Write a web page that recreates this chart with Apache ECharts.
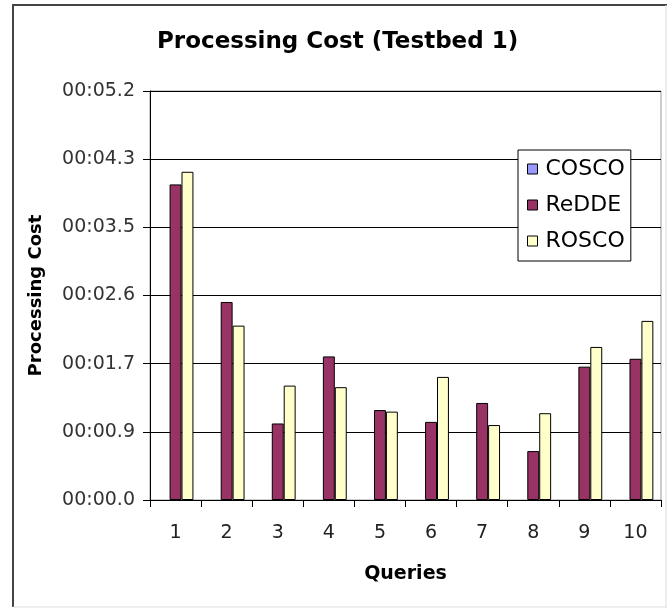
<!DOCTYPE html>
<html>
<head>
<meta charset="utf-8">
<title>Processing Cost (Testbed 1)</title>
<script src="https://cdn.jsdelivr.net/npm/echarts@6/dist/echarts.min.js"></script>
<style>
  html, body { margin: 0; padding: 0; background: #fff; }
  #chart { width: 668px; height: 609px; }
</style>
</head>
<body>
<div id="chart"></div>
<script>
// queries on the x axis
const queries = ["1", "2", "3", "4", "5", "6", "7", "8", "9", "10"];

// processing cost in seconds
const cosco = [0, 0, 0, 0, 0, 0, 0, 0, 0, 0];
const redde = [4.00, 2.51, 0.97, 1.82, 1.14, 0.99, 1.23, 0.62, 1.69, 1.79];
const rosco = [4.16, 2.21, 1.45, 1.43, 1.12, 1.56, 0.95, 1.10, 1.94, 2.27];

// excel major unit was 0.00001 day = 0.864 s
const yStep = 0.864;
const yTickLabels = ["00:00.0", "00:00.9", "00:01.7", "00:02.6", "00:03.5", "00:04.3", "00:05.2"];

const chart = echarts.init(document.getElementById("chart"), null, { renderer: "canvas" });

const font = "DejaVu Sans";

function barSeries(name, data, color, border) {
    return {
        name: name,
        type: "bar",
        data: data,
        barGap: "0%",
        barCategoryGap: "30%",
        itemStyle: { color: color, borderColor: "#000", borderWidth: border },
        emphasis: { disabled: true },
    };
}

chart.setOption({
    backgroundColor: "#fff",
    animation: false,
    title: {
        text: "Processing Cost (Testbed 1)",
        left: 157,
        top: 31,
        padding: 0,
        textStyle: { fontFamily: font, fontSize: 23, fontWeight: "bold", color: "#000" },
    },
    legend: {
        orient: "vertical",
        left: 518,
        top: 150,
        padding: [8, 6, 9, 9],
        itemGap: 14,
        itemWidth: 10,
        itemHeight: 10,
        icon: "rect",
        backgroundColor: "#fff",
        borderColor: "#000",
        borderWidth: 1,
        borderRadius: 0,
        itemStyle: { borderColor: "#000", borderWidth: 1 },
        textStyle: { fontFamily: font, fontSize: 22, color: "#000", padding: [0, 0, 0, 3] },
        data: ["COSCO", "ReDDE", "ROSCO"],
    },
    grid: {
        left: 150,
        right: 7,
        top: 91,
        bottom: 109,
        show: true,
        borderColor: "#999",
        borderWidth: 1,
    },
    xAxis: {
        type: "category",
        data: queries,
        name: "Queries",
        nameLocation: "middle",
        nameGap: 65,
        nameTextStyle: { fontFamily: font, fontSize: 19, fontWeight: "bold", color: "#000" },
        axisLine: { lineStyle: { color: "#000", width: 1 } },
        axisTick: { show: true, length: 7, lineStyle: { color: "#000" } },
        axisLabel: { fontFamily: font, fontSize: 19, color: "#222", margin: 24 },
    },
    yAxis: {
        type: "value",
        min: 0,
        max: yStep * 6,
        interval: yStep,
        name: "Processing Cost",
        nameLocation: "middle",
        nameGap: 105,
        nameTextStyle: { fontFamily: font, fontSize: 18, fontWeight: "bold", color: "#000" },
        axisLine: { show: true, lineStyle: { color: "#000", width: 1 } },
        axisTick: { show: true, length: 7, lineStyle: { color: "#000" } },
        axisLabel: {
            fontFamily: font,
            fontSize: 19,
            color: "#333",
            margin: 15,
            formatter: (v) => yTickLabels[Math.round(v / yStep)],
        },
        splitLine: { show: true, lineStyle: { color: "#000", width: 1 } },
    },
    series: [
        barSeries("COSCO", cosco, "#9999ff", 0),
        barSeries("ReDDE", redde, "#993366", 1),
        barSeries("ROSCO", rosco, "#ffffcc", 1),
    ],
    graphic: [
        // chart area frame like the excel export
        { type: "line", shape: { x1: 13, y1: 5, x2: 13, y2: 607 }, style: { stroke: "#444", lineWidth: 2 }, silent: true },
        { type: "line", shape: { x1: 12, y1: 5, x2: 667, y2: 5 }, style: { stroke: "#444", lineWidth: 2 }, silent: true },
        { type: "line", shape: { x1: 666, y1: 5, x2: 666, y2: 607 }, style: { stroke: "#ddd", lineWidth: 1 }, silent: true },
        { type: "line", shape: { x1: 13, y1: 607, x2: 667, y2: 607 }, style: { stroke: "#ddd", lineWidth: 1 }, silent: true },
    ],
});
</script>
</body>
</html>
